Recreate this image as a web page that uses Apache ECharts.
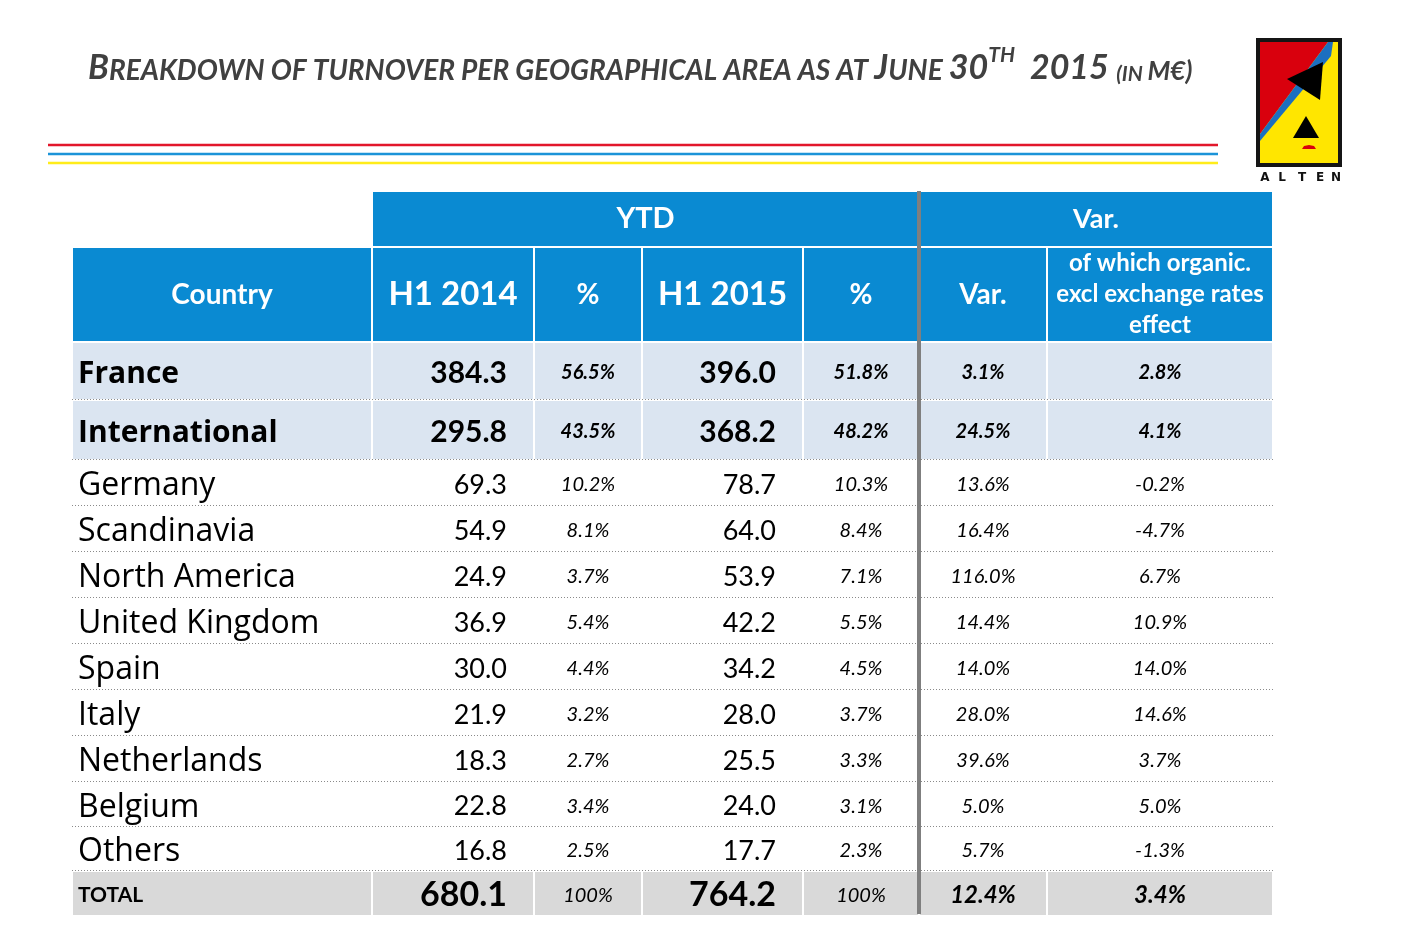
<!DOCTYPE html>
<html><head><meta charset="utf-8">
<script src="https://cdn.jsdelivr.net/npm/echarts@6/dist/echarts.min.js"></script>
<style>html,body{margin:0;padding:0;background:#fff}#c{width:1406px;height:946px}</style>
</head><body><div id="c"></div>
<script>
// ---------- DATA ----------
const countries = ['France','International','Germany','Scandinavia','North America','United Kingdom','Spain','Italy','Netherlands','Belgium','Others','TOTAL'];
const h1_2014   = [384.3, 295.8, 69.3, 54.9, 24.9, 36.9, 30.0, 21.9, 18.3, 22.8, 16.8, 680.1];
const pct_2014  = [56.5, 43.5, 10.2, 8.1, 3.7, 5.4, 4.4, 3.2, 2.7, 3.4, 2.5, 100];
const h1_2015   = [396.0, 368.2, 78.7, 64.0, 53.9, 42.2, 34.2, 28.0, 25.5, 24.0, 17.7, 764.2];
const pct_2015  = [51.8, 48.2, 10.3, 8.4, 7.1, 5.5, 4.5, 3.7, 3.3, 3.1, 2.3, 100];
const var_pct   = [3.1, 24.5, 13.6, 16.4, 116.0, 14.4, 14.0, 28.0, 39.6, 5.0, 5.7, 12.4];
const organic   = [2.8, 4.1, -0.2, -4.7, 6.7, 10.9, 14.0, 14.6, 3.7, 5.0, -1.3, 3.4];
const groupHeaders = ['YTD', 'Var.'];
const colHeaders = ['Country', 'H1 2014', '%', 'H1 2015', '%', 'Var.', 'of which organic.\nexcl exchange rates\neffect'];

// ---------- LAYOUT (axis units) ----------
const colEdges = [0, 300, 462, 570, 731, 847, 975, 1201];
const rowEdges = [0, 56, 151, 209, 269, 315, 361, 407, 453, 499, 545, 591, 636, 680, 725];
const FONT = 'Lato';
const NAME_FONT = 'Open Sans';
const BLUE = '#0a8ad2', LIGHT = '#dbe5f1', GREY = '#d9d9d9';

const fmtNum = v => v.toFixed(1);
const fmtPct = v => (v === 100 ? '100' : v.toFixed(1)) + '%';

// build cell list
const items = [];
items.push({c:1, span:4, r:0, text:groupHeaders[0], fill:BLUE, color:'#fff', size:29, weight:'bold', style:'normal', align:'center'});
items.push({c:5, span:2, r:0, text:groupHeaders[1], fill:BLUE, color:'#fff', size:27, weight:'bold', style:'normal', align:'center'});
colHeaders.forEach((h, i) => {
  const sz = (i === 1 || i === 3) ? 33 : (i === 6 ? 24 : 28);
  items.push({c:i, span:1, r:1, text:h, fill:BLUE, color:'#fff', size:sz, weight:'bold', style:'normal', align:'center', lh:31});
});
countries.forEach((name, k) => {
  const r = k + 2;
  const isMain = k < 2, isTotal = k === countries.length - 1;
  const fill = isMain ? LIGHT : (isTotal ? GREY : null);
  const cols = [name, fmtNum(h1_2014[k]), fmtPct(pct_2014[k]), fmtNum(h1_2015[k]), fmtPct(pct_2015[k]), fmtPct(var_pct[k]), fmtPct(organic[k])];
  cols.forEach((t, i) => {
    let size, weight = 'normal', style = 'normal', align = 'center', family = FONT, dy = 2;
    if (i === 0) {
      align = 'left';
      if (isTotal) { size = 21; weight = 'bold'; }
      else { family = NAME_FONT; size = isMain ? 30 : 32; weight = isMain ? 'bold' : 'normal'; dy = 3; }
    }
    else if (i === 1 || i === 3) { align = 'right'; size = isMain ? 30 : (isTotal ? 34 : 27); weight = (isMain || isTotal) ? 'bold' : 'normal'; }
    else { style = 'italic'; size = isTotal && i >= 5 ? 24 : 20; weight = (isMain || (isTotal && i >= 5)) ? 'bold' : 'normal'; }
    items.push({c:i, span:1, r:r, text:t, fill:fill, color:'#000', size:size, weight:weight, style:style, align:align, family:family, dy:dy});
  });
  if (!isTotal) items.push({kind:'hline', r:r});
});
items.push({kind:'vline'});

function renderItem(params, api) {
  const it = items[params.dataIndex];
  if (it.kind === 'vline') {
    const p0 = api.coord([colEdges[5], rowEdges[0]]);
    const p1 = api.coord([colEdges[5], rowEdges[rowEdges.length - 1] - 2]);
    return {type:'rect', z2:20, shape:{x:p0[0] - 2, y:p0[1], width:4, height:p1[1] - p0[1]}, style:{fill:'#7f7f7f'}};
  }
  if (it.kind === 'hline') {
    const p0 = api.coord([colEdges[0], rowEdges[it.r + 1]]);
    const p1 = api.coord([colEdges[colEdges.length - 1], rowEdges[it.r + 1]]);
    return {type:'line', z2:15, shape:{x1:p0[0], y1:p0[1] - 0.5, x2:p1[0] + 2, y2:p1[1] - 0.5},
      style:{stroke:'#8a8a8a', lineWidth:1, lineDash:[1, 2]}};
  }
  const tl = api.coord([colEdges[it.c], rowEdges[it.r]]);
  const br = api.coord([colEdges[it.c + it.span], rowEdges[it.r + 1]]);
  const children = [];
  if (it.fill) {
    children.push({type:'rect', shape:{x:tl[0] + 1, y:tl[1] + 1, width:br[0] - tl[0] - 2, height:br[1] - tl[1] - 2}, style:{fill:it.fill}});
  }
  let tx;
  if (it.align === 'left') tx = tl[0] + 6;
  else if (it.align === 'right') tx = br[0] - 27;
  else tx = (tl[0] + br[0]) / 2;
  const ty = (tl[1] + br[1]) / 2 + (it.dy || 0);
  children.push({type:'text', z2:5, style:{text:it.text, x:tx, y:ty, align:it.align, verticalAlign:'middle',
    fontFamily:it.family || FONT, fontSize:it.size, fontWeight:it.weight, fontStyle:it.style, fill:it.color, lineHeight:it.lh || it.size * 1.2}});
  return {type:'group', children:children};
}

const chart = echarts.init(document.getElementById('c'), null, {renderer:'canvas'});
const T = '#404040';
const LF = 'bold 12px "DejaVu Sans"';
chart.setOption({
  backgroundColor:'#fff',
  animation:false,
  title:{
    left:83, top:40,
    text:'{a|B}{b|REAKDOWN OF TURNOVER PER GEOGRAPHICAL AREA AS AT }{a|J}{b|UNE }{a|30}{s|TH}{a|  2015 }{c|(IN }{d|M€)}',
    textStyle:{
      rich:{
        a:{fontFamily:FONT, fontStyle:'italic', fontSize:34, color:T, verticalAlign:'bottom', lineHeight:40},
        b:{fontFamily:FONT, fontStyle:'italic', fontSize:28, color:T, verticalAlign:'bottom', lineHeight:40},
        s:{fontFamily:FONT, fontStyle:'italic', fontSize:21, color:T, verticalAlign:'top', lineHeight:30},
        c:{fontFamily:FONT, fontStyle:'italic', fontSize:21, color:T, verticalAlign:'bottom', lineHeight:40},
        d:{fontFamily:FONT, fontStyle:'italic', fontSize:26, color:T, verticalAlign:'bottom', lineHeight:40}
      }
    }
  },
  grid:{left:72, top:191, width:1201, height:725, containLabel:false},
  xAxis:{type:'value', min:0, max:colEdges[colEdges.length - 1], show:false},
  yAxis:{type:'value', min:0, max:rowEdges[rowEdges.length - 1], inverse:true, show:false},
  series:[{
    type:'custom', clip:false, silent:true,
    renderItem:renderItem,
    data:items.map(it => [it.c || 0, it.r || 0])
  }],
  graphic:[
    {type:'line', shape:{x1:48, y1:145, x2:1218, y2:145}, style:{stroke:'#e2172b', lineWidth:2.5}},
    {type:'line', shape:{x1:48, y1:154, x2:1218, y2:154}, style:{stroke:'#1b93d8', lineWidth:2.5}},
    {type:'line', shape:{x1:48, y1:163, x2:1218, y2:163}, style:{stroke:'#ffec1a', lineWidth:2.5}},
    // logo
    {type:'rect', shape:{x:1256, y:38, width:86, height:129}, style:{fill:'#151515'}},
    {type:'rect', shape:{x:1260, y:42, width:78, height:121}, style:{fill:'#ffe600'}},
    {type:'polygon', shape:{points:[[1260,42],[1328,42],[1260,134]]}, style:{fill:'#d9000d'}},
    {type:'polygon', shape:{points:[[1328,42],[1333,42],[1331,56],[1260,141],[1260,134]]}, style:{fill:'#1c6fc0'}},
    {type:'polygon', shape:{points:[[1287,79],[1323,62],[1320,100]]}, style:{fill:'#000'}},
    {type:'polygon', shape:{points:[[1306,116],[1293,138],[1319,138]]}, style:{fill:'#000'}},
    {type:'polygon', shape:{points:[[1302,149],[1304,146],[1309,145],[1314,146],[1316,149]]}, style:{fill:'#d9000d'}},
    {type:'text', style:{text:'A', x:1265, y:178, align:'center', verticalAlign:'middle', font:LF, fill:'#111'}},
    {type:'text', style:{text:'L', x:1282, y:178, align:'center', verticalAlign:'middle', font:LF, fill:'#111'}},
    {type:'text', style:{text:'T', x:1302, y:178, align:'center', verticalAlign:'middle', font:LF, fill:'#111'}},
    {type:'text', style:{text:'E', x:1320, y:178, align:'center', verticalAlign:'middle', font:LF, fill:'#111'}},
    {type:'text', style:{text:'N', x:1336, y:178, align:'center', verticalAlign:'middle', font:LF, fill:'#111'}}
  ]
});
</script>
</body></html>
